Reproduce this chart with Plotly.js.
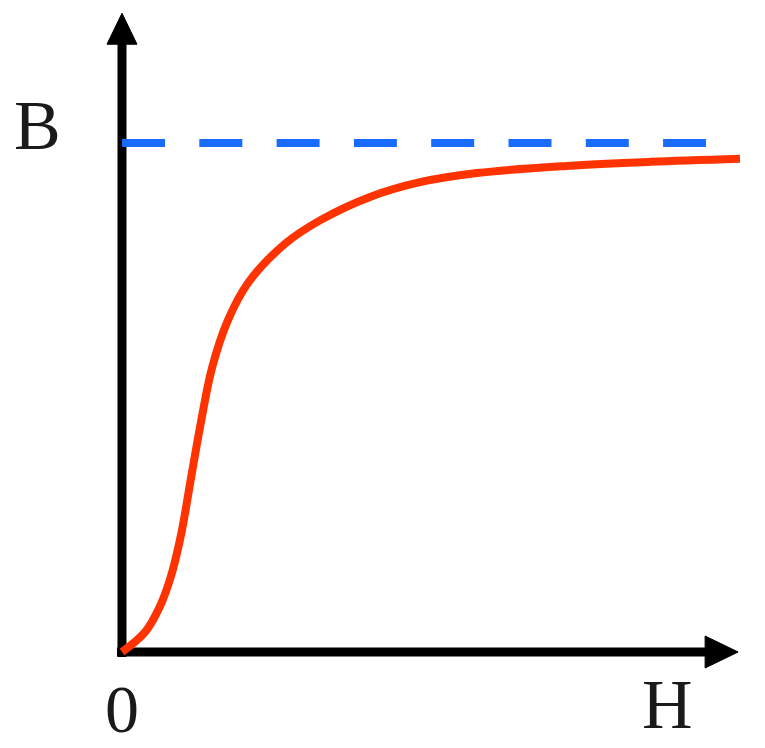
<!DOCTYPE html>
<html>
<head>
<meta charset="utf-8">
<script src="https://cdn.plot.ly/plotly-3.0.1.min.js"></script>
<style>
  html, body { margin: 0; padding: 0; background: #ffffff; }
  #chart { width: 765px; height: 748px; }
</style>
</head>
<body>
<div id="chart"></div>
<script>
// Magnetization curve B(H) (H in arbitrary units, B relative to saturation)
var fieldH = [0, 0.372, 0.615, 0.793, 0.955, 1.117, 1.278, 1.456, 1.715, 2.039, 2.638, 3.204, 4.013, 4.822, 5.744, 7.201, 8.544, 10.0];
var fluxB  = [0, 0.039, 0.090, 0.149, 0.230, 0.342, 0.452, 0.558, 0.652, 0.725, 0.802, 0.848, 0.894, 0.923, 0.941, 0.955, 0.963, 0.969];
// Saturation level (dashed asymptote)
var satH = [0, 9.45];
var satB = [1, 1];
// Axis labels
var labelTexts = ['B', '0', 'H'];
var labelH = [-1.375, 0, 8.835];
var labelB = [1.034, -0.111, -0.104];

// scale helpers (pixels per unit) used for axis decorations
var W = 765, Hpx = 748;
var xMin = -1.974, xMax = 10.405;
var yMin = -0.1886, yMax = 1.281;
var pxPerH = W / (xMax - xMin);
var pxPerB = Hpx / (yMax - yMin);
function dx(px) { return px / pxPerH; }
function dy(px) { return px / pxPerB; }

var axisColor = '#000000';
var xTip = 9.97, xBase = xTip - dx(33);
var yTip = 1.255, yBase = yTip - dy(31);

var traces = [
  {
    x: satH, y: satB, mode: 'lines', type: 'scatter',
    line: { color: '#1a6cff', width: 8, dash: '43px,34.3px' },
    hoverinfo: 'skip'
  },
  {
    x: fieldH, y: fluxB, mode: 'lines', type: 'scatter',
    line: { color: '#ff3300', width: 8, shape: 'spline', smoothing: 1, simplify: false },
    hoverinfo: 'skip'
  }
];

var shapes = [
  // y axis line
  { type: 'line', xref: 'x', yref: 'y', x0: 0, x1: 0, y0: -dy(5), y1: yBase + dy(2),
    line: { color: axisColor, width: 9 }, layer: 'below' },
  // x axis line
  { type: 'line', xref: 'x', yref: 'y', x0: -dx(5), x1: xBase + dx(2), y0: 0, y1: 0,
    line: { color: axisColor, width: 9 }, layer: 'below' },
  // y arrow head
  { type: 'path', xref: 'x', yref: 'y',
    path: 'M ' + (-dx(15)) + ',' + yBase + ' L 0,' + yTip + ' L ' + dx(15) + ',' + yBase + ' Z',
    fillcolor: axisColor, line: { color: axisColor, width: 1 } },
  // x arrow head
  { type: 'path', xref: 'x', yref: 'y',
    path: 'M ' + xBase + ',' + dy(16) + ' L ' + xTip + ',0 L ' + xBase + ',' + (-dy(16)) + ' Z',
    fillcolor: axisColor, line: { color: axisColor, width: 1 } }
];

var labelSizes = [70, 68, 70];
var annotations = labelTexts.map(function (t, i) {
  return {
    x: labelH[i], y: labelB[i], xref: 'x', yref: 'y', text: t, showarrow: false,
    xanchor: 'center', yanchor: 'middle',
    font: { family: 'Liberation Serif, Times New Roman, serif', size: labelSizes[i], color: '#1a1a1a' }
  };
});

var layout = {
  width: W, height: Hpx,
  margin: { l: 0, r: 0, t: 0, b: 0, pad: 0 },
  paper_bgcolor: '#ffffff', plot_bgcolor: '#ffffff',
  showlegend: false,
  xaxis: { range: [xMin, xMax], visible: false, fixedrange: true },
  yaxis: { range: [yMin, yMax], visible: false, fixedrange: true },
  shapes: shapes,
  annotations: annotations
};

Plotly.newPlot('chart', traces, layout, { staticPlot: true, displayModeBar: false });
</script>
</body>
</html>
